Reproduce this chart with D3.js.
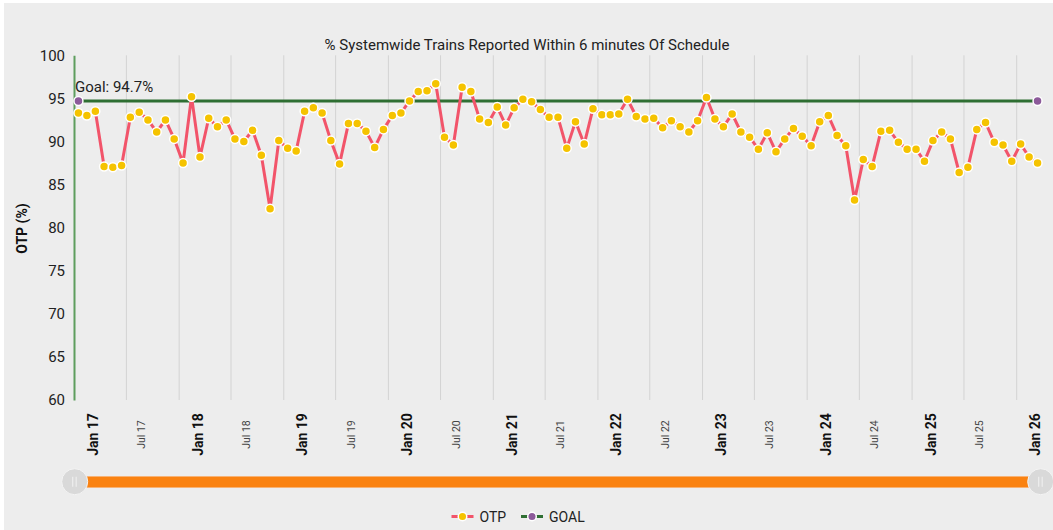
<!DOCTYPE html>
<html>
<head>
<meta charset="utf-8">
<script src="https://cdn.jsdelivr.net/npm/d3@7"></script>
<style>
  html, body { margin: 0; padding: 0; background: #fff; }
  #chart { position: absolute; left: 4px; top: 3px; }
  text { font-family: Roboto, "Noto Sans", sans-serif; }
</style>
</head>
<body>
<div id="chart"></div>
<script>
// monthly OTP, first value is Jan 2017
var firstMonth = new Date(2017, 0, 1);
var otp = [93.3, 93.0, 93.5, 87.1, 87.0, 87.2, 92.8, 93.4, 92.5, 91.1,
  92.5, 90.3, 87.5, 95.2, 88.2, 92.7, 91.7, 92.5, 90.3, 90.0,
  91.3, 88.4, 82.2, 90.1, 89.2, 88.9, 93.5, 93.9, 93.3, 90.1,
  87.4, 92.1, 92.1, 91.2, 89.3, 91.4, 93.0, 93.3, 94.7, 95.8,
  95.9, 96.7, 90.5, 89.6, 96.3, 95.8, 92.6, 92.2, 94.0, 91.9,
  93.9, 94.9, 94.6, 93.7, 92.8, 92.8, 89.2, 92.3, 89.7, 93.8,
  93.1, 93.1, 93.2, 94.9, 92.9, 92.6, 92.7, 91.6, 92.4, 91.7,
  91.1, 92.4, 95.1, 92.6, 91.7, 93.2, 91.1, 90.5, 89.1, 91.0,
  88.8, 90.3, 91.5, 90.6, 89.5, 92.3, 93.0, 90.7, 89.5, 83.2,
  87.9, 87.1, 91.2, 91.3, 89.9, 89.1, 89.1, 87.7, 90.1, 91.1,
  90.3, 86.4, 87.0, 91.4, 92.2, 89.9, 89.6, 87.7, 89.7, 88.2, 87.5];
var goal = 94.7;
var yTicks = [60, 65, 70, 75, 80, 85, 90, 95, 100];
var legendItems = ["OTP", "GOAL"];

var W = 1049, H = 527;
// container sits at (4,3), so plot coords are page coords minus that
var ox = 4, oy = 3;
var mLeft = 74 - ox, mRight = 1042 - ox, mTop = 55.3 - oy, mBottom = 400 - oy;

var svg = d3.select("#chart").append("svg")
  .attr("width", W).attr("height", H);
svg.append("rect").attr("width", W).attr("height", H).attr("fill", "#ededed");

var data = otp.map(function (v, i) {
  var s = d3.timeMonth.offset(firstMonth, i), e = d3.timeMonth.offset(firstMonth, i + 1);
  return { date: new Date((+s + +e) / 2), value: v };
});
var endDate = d3.timeMonth.offset(firstMonth, otp.length);

var x = d3.scaleTime().domain([firstMonth, endDate]).range([mLeft, mRight]);
var y = d3.scaleLinear().domain([60, 100]).range([mBottom, mTop]);

var halfYears = d3.timeMonth.every(6).range(firstMonth, endDate);

// vertical grid
svg.append("g")
  .attr("transform", "translate(0," + mBottom + ")")
  .call(d3.axisBottom(x).tickValues(halfYears.slice(1)).tickSize(-(mBottom - mTop)).tickFormat(""))
  .call(function (g) { g.select(".domain").remove(); })
  .selectAll("line").attr("stroke", "#d3d3d3").attr("stroke-width", 1);

// x labels
var xl = svg.append("g")
  .attr("transform", "translate(0," + mBottom + ")")
  .call(d3.axisBottom(x).tickValues(halfYears).tickSize(0).tickFormat(d3.timeFormat("%b %y")));
xl.select(".domain").remove();
xl.selectAll("text")
  .attr("y", 0).attr("dy", 0)
  .attr("text-anchor", "middle")
  .attr("fill", function (d) { return d.getMonth() == 0 ? "#111" : "#444"; })
  .style("font-size", function (d) { return d.getMonth() == 0 ? "14px" : "10.5px"; })
  .style("font-weight", function (d) { return d.getMonth() == 0 ? "bold" : "normal"; })
  .attr("transform", function (d) {
    return "translate(" + (d.getMonth() == 0 ? 23.5 : 19) + ",34.5) rotate(-90)";
  });

// y axis
var ya = svg.append("g")
  .attr("transform", "translate(" + mLeft + ",0)")
  .call(d3.axisLeft(y).tickValues(yTicks).tickSize(0).tickPadding(9));
ya.select(".domain").attr("stroke", "#5e9e5e").attr("stroke-width", 2);
ya.selectAll("text").style("font-size", "15px").attr("fill", "#222");

svg.append("text")
  .attr("transform", "translate(" + (26.5 - ox) + "," + (228.5 - oy) + ") rotate(-90)")
  .attr("text-anchor", "middle")
  .style("font-size", "14px").style("font-weight", "bold").attr("fill", "#111")
  .text("OTP (%)");

// title
svg.append("text")
  .attr("x", 527 - ox).attr("y", 49.5 - oy)
  .attr("text-anchor", "middle")
  .style("font-size", "15px").attr("fill", "#222")
  .text("% Systemwide Trains Reported Within 6 minutes Of Schedule");

// goal line
var g0 = data[0].date, g1 = data[data.length - 1].date;
svg.append("line")
  .attr("x1", x(g0)).attr("x2", x(g1))
  .attr("y1", y(goal)).attr("y2", y(goal))
  .attr("stroke", "#2f6f33").attr("stroke-width", 3);
svg.selectAll(".goaldot").data([g0, g1]).enter().append("circle")
  .attr("cx", function (d) { return x(d); }).attr("cy", y(goal))
  .attr("r", 4.5).attr("fill", "#8c5a9a").attr("stroke", "#fff").attr("stroke-width", 1.5);
svg.append("text")
  .attr("x", 75 - ox).attr("y", 92 - oy)
  .style("font-size", "15px").attr("fill", "#222")
  .text("Goal: " + goal + "%");

// OTP line
var line = d3.line()
  .x(function (d) { return x(d.date); })
  .y(function (d) { return y(d.value); });
svg.append("path").datum(data)
  .attr("d", line)
  .attr("fill", "none").attr("stroke", "#f2546a").attr("stroke-width", 3)
  .attr("stroke-linejoin", "round");
svg.selectAll(".dot").data(data).enter().append("circle")
  .attr("cx", function (d) { return x(d.date); })
  .attr("cy", function (d) { return y(d.value); })
  .attr("r", 4.5).attr("fill", "#f5c300").attr("stroke", "#fff").attr("stroke-width", 1.5);

// scrollbar
svg.append("rect")
  .attr("x", 86 - ox).attr("y", 476.5 - oy).attr("width", 1030 - 86).attr("height", 11)
  .attr("fill", "#fa8211").attr("stroke", "#fbb070").attr("stroke-width", 0.6);
[74.7, 1040.7].forEach(function (cx) {
  var grip = svg.append("g").attr("transform", "translate(" + (cx - ox) + "," + (481.7 - oy) + ")");
  grip.append("circle").attr("r", 13).attr("fill", "#d9d9d9").attr("stroke", "#f4f4f4").attr("stroke-width", 1);
  grip.append("line").attr("x1", -2).attr("x2", -2).attr("y1", -5).attr("y2", 5).attr("stroke", "#eeeeee").attr("stroke-width", 1.2);
  grip.append("line").attr("x1", 1.5).attr("x2", 1.5).attr("y1", -5).attr("y2", 5).attr("stroke", "#eeeeee").attr("stroke-width", 1.2);
});

// legend
var legend = svg.append("g").attr("transform", "translate(0," + (516.5 - oy) + ")");
var lx = [451.5 - ox, 521 - ox];
var lineCol = ["#f2546a", "#2f6f33"], dotCol = ["#f5c300", "#8c5a9a"];
legendItems.forEach(function (name, i) {
  var g = legend.append("g").attr("transform", "translate(" + lx[i] + ",0)");
  g.append("line").attr("x1", 0).attr("x2", 22).attr("y1", 0).attr("y2", 0)
    .attr("stroke", lineCol[i]).attr("stroke-width", 3).attr("stroke-dasharray", "7,8,7");
  g.append("circle").attr("cx", 11).attr("cy", 0).attr("r", 4.3)
    .attr("fill", dotCol[i]).attr("stroke", "#fff").attr("stroke-width", 1.5);
  g.append("text").attr("x", 28).attr("y", 5)
    .style("font-size", "14px").attr("fill", "#222").text(name);
});
</script>
</body>
</html>
